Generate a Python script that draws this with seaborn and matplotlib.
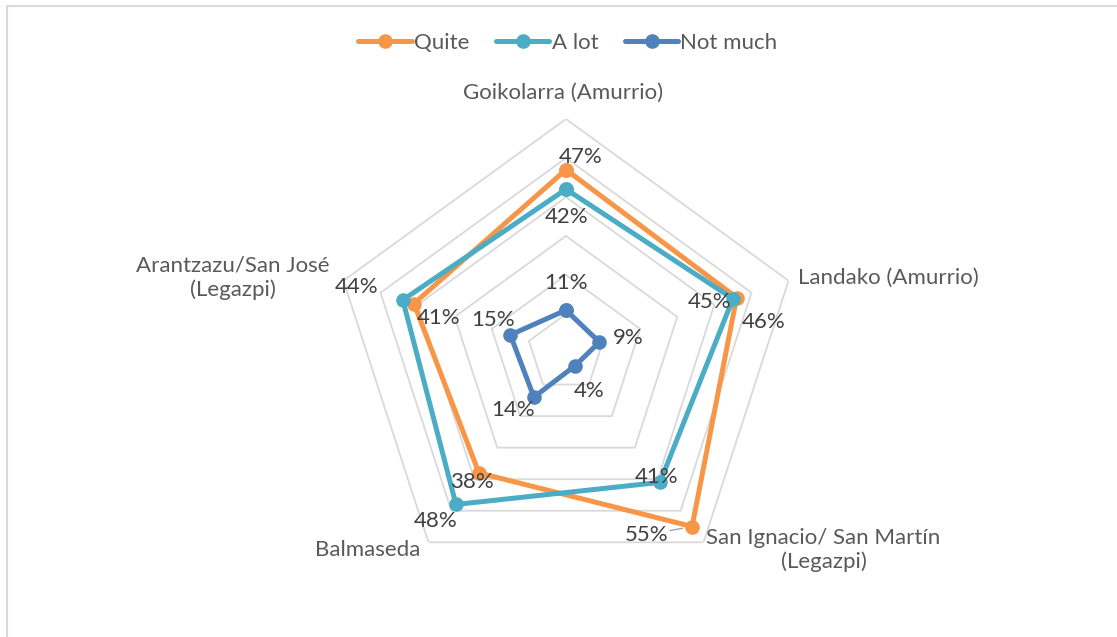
import numpy as np
import pandas as pd
import matplotlib
matplotlib.use("Agg")
import matplotlib.pyplot as plt
from matplotlib.patches import Rectangle
import seaborn as sns

# chart data
categories = [
    "Goikolarra (Amurrio)",
    "Landako (Amurrio)",
    "San Ignacio/ San Martín\n(Legazpi)",
    "Balmaseda",
    "Arantzazu/San José\n(Legazpi)",
]
series_names = ["Quite", "A lot", "Not much"]
quite = [47, 46, 55, 38, 41]
a_lot = [42, 45, 41, 48, 44]
not_much = [11, 9, 4, 14, 15]
ring_levels = [10, 20, 30, 40, 50, 60]

colors = {"Quite": "#F79646", "A lot": "#4BACC6", "Not much": "#4F81BD"}

# label offsets in pixels (dx right, dy down)
label_offsets = {
    "Quite": [(15, -13), (27, 24), (-45, 8), (-7, 9), (25, 14)],
    "A lot": [(1, 28), (-23, 3), (-3, -5), (-20, 17), (-46, -13)],
    "Not much": [(0, -27), (29, -4), (14, 25), (-21, 13), (-17, -15)],
}
cat_offsets = [(-3, -26), (9, -3), (120, 8), (-8, 8), (-111, -3)]
cat_ha = ["center", "left", "center", "right", "center"]

FS = 16

sns.set_theme(style="white")
plt.rcParams["font.family"] = ["Lato", "DejaVu Sans"]

W, H = 1117, 637
fig = plt.figure(figsize=(W / 100, H / 100), dpi=100)
fig.patch.set_facecolor("white")

cx, cy, rad = 566, 353, 234
ax = fig.add_axes(
    [(cx - rad) / W, (H - cy - rad) / H, 2 * rad / W, 2 * rad / H],
    projection="polar",
)
ax.set_theta_offset(np.pi / 2)
ax.set_theta_direction(-1)

theta = np.linspace(0, 2 * np.pi, len(categories), endpoint=False)

# pentagon grid
for lvl in ring_levels:
    ax.plot(np.append(theta, theta[0]), [lvl] * (len(theta) + 1),
            color="#D9D9D9", lw=1.3, zorder=0)

values = {"Quite": quite, "A lot": a_lot, "Not much": not_much}
rows = []
for name in series_names:
    vals = values[name]
    for i in range(len(categories) + 1):
        t = theta[i] if i < len(theta) else 2 * np.pi
        rows.append({"series": name, "theta": t, "value": vals[i % len(vals)]})
df = pd.DataFrame(rows)

for name in series_names:
    sns.lineplot(data=df[df["series"] == name], x="theta", y="value",
                 sort=False, estimator=None, ax=ax, color=colors[name],
                 lw=3.6, marker="o", markersize=10.5, markeredgewidth=0,
                 label=name, zorder=3)

for name in series_names:
    for i, v in enumerate(values[name]):
        dx, dy = label_offsets[name][i]
        ax.annotate(f"{v}%", xy=(theta[i], v), xytext=(dx, -dy),
                    textcoords="offset pixels", ha="center", va="center",
                    fontsize=FS, color="#404040", zorder=5)

# small leader line for the 55% label
ax.annotate("", xy=(theta[2], quite[2]), xytext=(-22, -4),
            textcoords="offset pixels",
            arrowprops=dict(arrowstyle="-", color="#A6A6A6", lw=1,
                            shrinkA=0, shrinkB=7))

for i, cat in enumerate(categories):
    dx, dy = cat_offsets[i]
    ax.annotate(cat, xy=(theta[i], 60), xytext=(dx, -dy),
                textcoords="offset pixels", ha=cat_ha[i], va="center",
                multialignment="center", fontsize=FS, color="#595959",
                annotation_clip=False)

ax.set_ylim(0, 60)
ax.set_xticks([])
ax.set_yticks([])
ax.grid(False)
ax.spines["polar"].set_visible(False)
ax.set_facecolor("none")
ax.set_xlabel("")
ax.set_ylabel("")

handles, labels = ax.get_legend_handles_labels()
ax.get_legend().remove()
fig.legend(handles, labels, loc="center", bbox_to_anchor=(568 / W, 1 - 43 / H),
           ncol=3, frameon=False, fontsize=FS, handlelength=2.4,
           handletextpad=0.1, columnspacing=1.2, labelcolor="#595959")

# outer chart frame
fig.patches.append(Rectangle((6.5 / W, -0.1), 2, 1.1 - 5.5 / H,
                             transform=fig.transFigure, fill=False,
                             edgecolor="#D9D9D9", lw=1.5))

fig.savefig("out.png", dpi=100)
